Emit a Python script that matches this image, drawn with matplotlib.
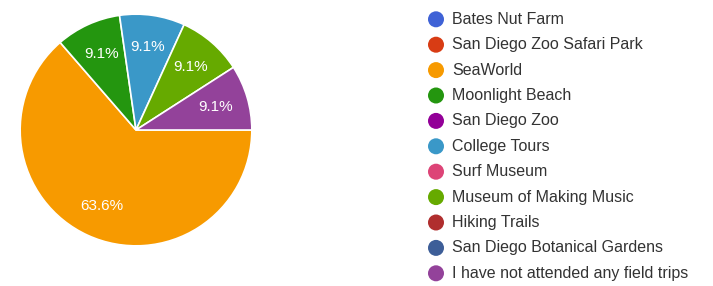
import matplotlib.pyplot as plt
from matplotlib.patches import Circle

plt.rcParams['font.family'] = ['Liberation Sans', 'DejaVu Sans']

# survey answers, in legend order
places = ['Bates Nut Farm', 'San Diego Zoo Safari Park', 'SeaWorld', 'Moonlight Beach',
          'San Diego Zoo', 'College Tours', 'Surf Museum', 'Museum of Making Music',
          'Hiking Trails', 'San Diego Botanical Gardens', 'I have not attended any field trips']
counts = [0, 0, 7, 1, 0, 1, 0, 1, 0, 0, 1]
colors = ['#3f62d6', '#d83c14', '#f79a00', '#24960f', '#930098', '#3a98c8',
          '#dd4477', '#66aa00', '#b02e2e', '#3d5e98', '#93429a']

W, H = 713, 286
fig = plt.figure(figsize=(W / 100, H / 100), dpi=100)

# only non-zero slices go in the pie
vals = [c for c in counts if c > 0]
cols = [colors[i] for i, c in enumerate(counts) if c > 0]

ax = fig.add_axes([19 / W, (H - 247) / H, 234 / W, 234 / H])
wedges, texts, autotexts = ax.pie(vals, colors=cols, startangle=0, counterclock=False,
                                  autopct='%.1f%%', pctdistance=0.72,
                                  wedgeprops=dict(edgecolor='white', linewidth=1.2),
                                  textprops=dict(color='white', fontsize=11))
ax.set_xlim(-1.01, 1.01)
ax.set_ylim(-1.01, 1.01)
ax.set_aspect('equal')

# legend drawn on an overlay axes in pixel units
lg = fig.add_axes([0, 0, 1, 1])
lg.set_xlim(0, W)
lg.set_ylim(H, 0)
lg.axis('off')
y0, step = 19.3, 25.4
for i, (name, col) in enumerate(zip(places, colors)):
    y = y0 + i * step
    lg.add_patch(Circle((436, y), 8, color=col, lw=0))
    lg.text(452, y, name, va='center', ha='left', fontsize=11.5, color='#333333')

fig.savefig('out.png', dpi=100)
